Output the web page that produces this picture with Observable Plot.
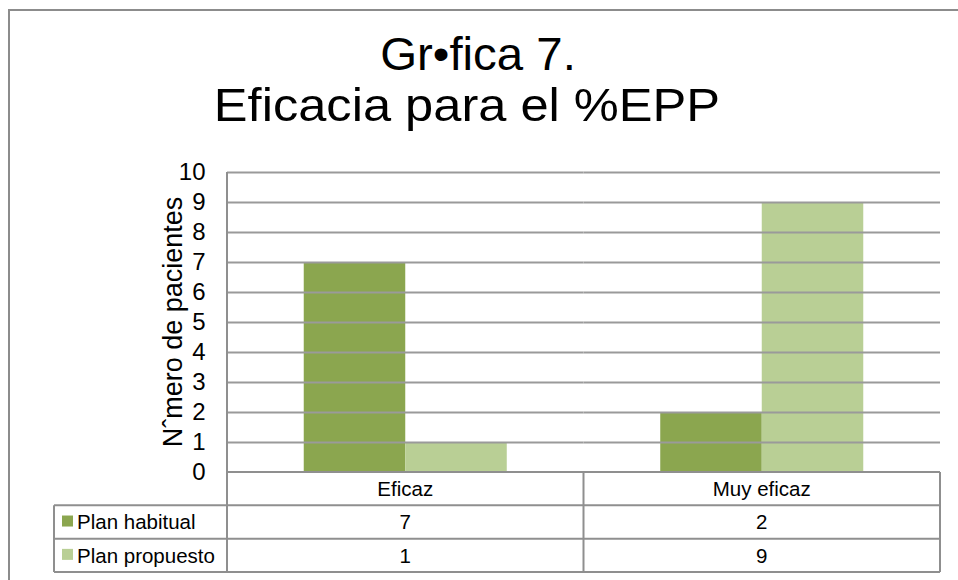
<!DOCTYPE html>
<html><head><meta charset="utf-8">
<script src="https://cdn.jsdelivr.net/npm/d3@7"></script>
<script src="https://cdn.jsdelivr.net/npm/@observablehq/plot@0.6"></script>
<style>
html,body{margin:0;padding:0;background:#fff;}
#wrap{position:relative;width:958px;height:580px;overflow:hidden;background:#fff;font-family:"Liberation Sans",Arial,sans-serif;}
#frame{position:absolute;left:8px;top:9px;width:1000px;height:700px;border-left:2px solid #8c8c8c;border-top:2px solid #8c8c8c;}
.t{position:absolute;width:1000px;text-align:center;font-size:46px;line-height:46px;color:#000;white-space:nowrap;transform-origin:50% 50%;}
#chart{position:absolute;left:0;top:0;}
</style></head><body>
<div id="wrap"><div id="frame"></div>
<div class="t" id="t1" style="top:31px;left:-22px;transform:scaleX(1.03)">Gr•fica 7.</div>
<div class="t" id="t2" style="top:82px;left:-33px;transform:scaleX(1.1)">Eficacia para el %EPP</div>
<div id="chart"></div>
</div>
<script>
const categories = ["Eficaz", "Muy eficaz"];
const series = ["Plan habitual", "Plan propuesto"];
const planHabitual = [7, 2];
const planPropuesto = [1, 9];
const yTicks = [0, 1, 2, 3, 4, 5, 6, 7, 8, 9, 10];
const colors = ["#8ba64f", "#b9cf95"];
const yLabel = "Nˆmero de pacientes";

const seriesValues = [planHabitual, planPropuesto];
const rows = categories.flatMap((c, i) => series.map((s, j) => ({category: c, series: s, value: seriesValues[j][i]})));

const W = 958, H = 580, ML = 227, MR = 18, MT = 172, MB = 108;
const gridColor = "#9a9a9a";

const plot = Plot.plot({
  width: W, height: H,
  marginTop: MT, marginBottom: MB, marginLeft: ML, marginRight: MR,
  style: {fontFamily: "Liberation Sans, Arial, sans-serif", fontSize: "24px", color: "#000", background: "transparent", overflow: "visible"},
  facet: {data: rows, x: "category"},
  fx: {domain: categories, padding: 0, axis: null, round: false},
  x: {domain: series, paddingInner: 0, paddingOuter: 0.756, axis: null, round: false},
  y: {domain: [0, 10], ticks: yTicks, tickSize: 0, tickPadding: 22, label: null, tickFormat: d => String(d)},
  color: {domain: series, range: colors},
  marks: [
    Plot.barY(rows, {x: "series", y: "value", fill: "series"}),
    Plot.ruleY(yTicks.slice(1), {stroke: gridColor, strokeWidth: 2})
  ]
});
document.getElementById("chart").appendChild(plot);

const svg = d3.select(plot);
// y tick labels size
svg.selectAll("text").each(function() {
  d3.select(this).attr("font-size", 24).style("font-size", "24px");
  if (this.parentNode) d3.select(this.parentNode).attr("font-size", 24).style("font-size", "24px");
});

const yS = plot.scale("y");
const fxS = plot.scale("fx");
const y0 = yS.apply(0), yTop = yS.apply(10);
const bw = fxS.bandwidth;
const left = fxS.apply(categories[0]);
const right = fxS.apply(categories[categories.length - 1]) + bw;
const rowH = 33.35;
const tblLeft = 54;
const g = svg.append("g").attr("font-family", "Liberation Sans, Arial, sans-serif");

// y label
g.append("text").text(yLabel)
  .attr("text-anchor", "middle").attr("font-size", 27)
  .attr("transform", `translate(182,${yS.apply(5)}) rotate(-90)`);

// table lines
const line = (x1, y1, x2, y2) => g.append("line").attr("x1", x1).attr("y1", y1).attr("x2", x2).attr("y2", y2)
  .attr("stroke", "#8f8f8f").attr("stroke-width", 2);
line(left, y0, right, y0);
for (let r = 1; r <= 3; r++) line(tblLeft, y0 + r * rowH, right, y0 + r * rowH);
line(tblLeft, y0 + rowH, tblLeft, y0 + 3 * rowH);
line(left, yTop, left, y0 + 3 * rowH);
categories.forEach(c => line(fxS.apply(c) + bw, y0, fxS.apply(c) + bw, y0 + 3 * rowH));

const txt = (s, x, yc, anchor) => g.append("text").text(s).attr("text-anchor", anchor).attr("font-size", 20.5)
  .attr("dy", "0.36em").attr("transform", `translate(${x},${yc})`);

categories.forEach((c, i) => {
  const cx = fxS.apply(c) + bw / 2;
  txt(c, cx, y0 + rowH / 2, "middle");
  series.forEach((s, j) => txt(String(seriesValues[j][i]), cx, y0 + (j + 1.5) * rowH, "middle"));
});
series.forEach((s, j) => {
  const yc = y0 + (j + 1.5) * rowH;
  g.append("rect").attr("x", 62).attr("y", yc - 6.5).attr("width", 11).attr("height", 11).attr("fill", colors[j]);
  txt(s, 77, yc, "start");
});
</script>
</body></html>
